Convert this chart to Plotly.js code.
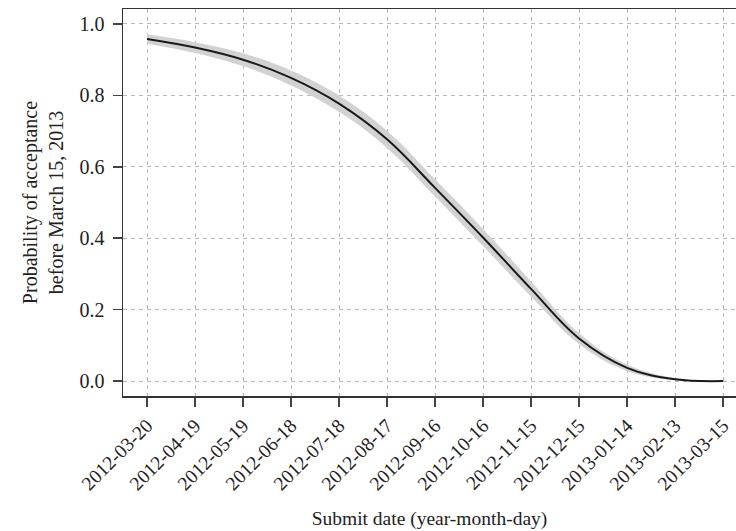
<!DOCTYPE html>
<html>
<head>
<meta charset="utf-8">
<script src="https://cdn.plot.ly/plotly-3.0.1.min.js"></script>
<style>html,body{margin:0;padding:0;background:#fff;}#chart{width:736px;height:531px;}</style>
</head>
<body>
<div id="chart"></div>
<script>
const dates = ["2012-03-20","2012-04-19","2012-05-19","2012-06-18","2012-07-18","2012-08-17","2012-09-16","2012-10-16","2012-11-15","2012-12-15","2013-01-14","2013-02-13","2013-03-15"];
const prob  = [0.958, 0.934, 0.900, 0.849, 0.777, 0.677, 0.541, 0.402, 0.258, 0.119, 0.037, 0.005, 0.000];
const upper = [0.971, 0.949, 0.918, 0.870, 0.800, 0.701, 0.565, 0.426, 0.279, 0.134, 0.046, 0.008, 0.001];
const lower = [0.945, 0.919, 0.882, 0.828, 0.754, 0.653, 0.517, 0.378, 0.237, 0.104, 0.028, 0.002, 0.000];
const tickLabels = dates.slice();
const yTicks = [0, 0.2, 0.4, 0.6, 0.8, 1.0];
const yTickText = ["0.0","0.2","0.4","0.6","0.8","1.0"];

const FONT = "Liberation Serif, Times New Roman, serif";
const traces = [
  {x: dates, y: upper, mode: "lines", line: {width: 0, shape: "spline", smoothing: 1.1, color: "rgba(0,0,0,0)"}, hoverinfo: "skip", showlegend: false},
  {x: dates, y: lower, mode: "lines", fill: "tonexty", fillcolor: "#d2d2d2", line: {width: 0, shape: "spline", smoothing: 1.1, color: "rgba(0,0,0,0)"}, hoverinfo: "skip", showlegend: false},
  {x: dates, y: prob, mode: "lines", line: {color: "#1a1a1a", width: 2, shape: "spline", smoothing: 1.1}, showlegend: false}
];
const layout = {
  width: 736, height: 531,
  margin: {l: 123, r: 0, t: 9, b: 135},
  paper_bgcolor: "#fff", plot_bgcolor: "#fff",
  font: {family: FONT, size: 20, color: "#222"},
  showlegend: false,
  xaxis: {
    type: "date",
    range: ["2012-03-05", "2013-03-23 02:00"],
    tickmode: "array", tickvals: dates, ticktext: tickLabels,
    tickangle: -45,
    ticks: "outside", ticklen: 9, tickwidth: 1.5, tickcolor: "#444",
    showline: true, linecolor: "#333", linewidth: 1.5, mirror: true,
    showgrid: true, gridcolor: "#b8b8b8", gridwidth: 1, griddash: "4px,4px",
    zeroline: false,
    tickfont: {family: FONT, size: 19.5, color: "#222"},
    title: {text: "Submit date (year-month-day)", font: {family: FONT, size: 19.5, color: "#222"}, standoff: 18},
    automargin: false
  },
  yaxis: {
    range: [-0.042, 1.042],
    tickmode: "array", tickvals: yTicks, ticktext: yTickText,
    ticks: "outside", ticklen: 9, tickwidth: 1.5, tickcolor: "#444",
    showline: true, linecolor: "#333", linewidth: 1.5, mirror: false,
    showgrid: true, gridcolor: "#b8b8b8", gridwidth: 1, griddash: "4px,4px",
    zeroline: false,
    ticklabelstandoff: 4,
    tickfont: {family: FONT, size: 20, color: "#222"},
    title: {text: "Probability of acceptance<br>before March 15, 2013", font: {family: FONT, size: 20, color: "#222"}, standoff: 10},
    automargin: false
  }
};
Plotly.newPlot("chart", traces, layout, {displayModeBar: false, staticPlot: true});
</script>
</body>
</html>
